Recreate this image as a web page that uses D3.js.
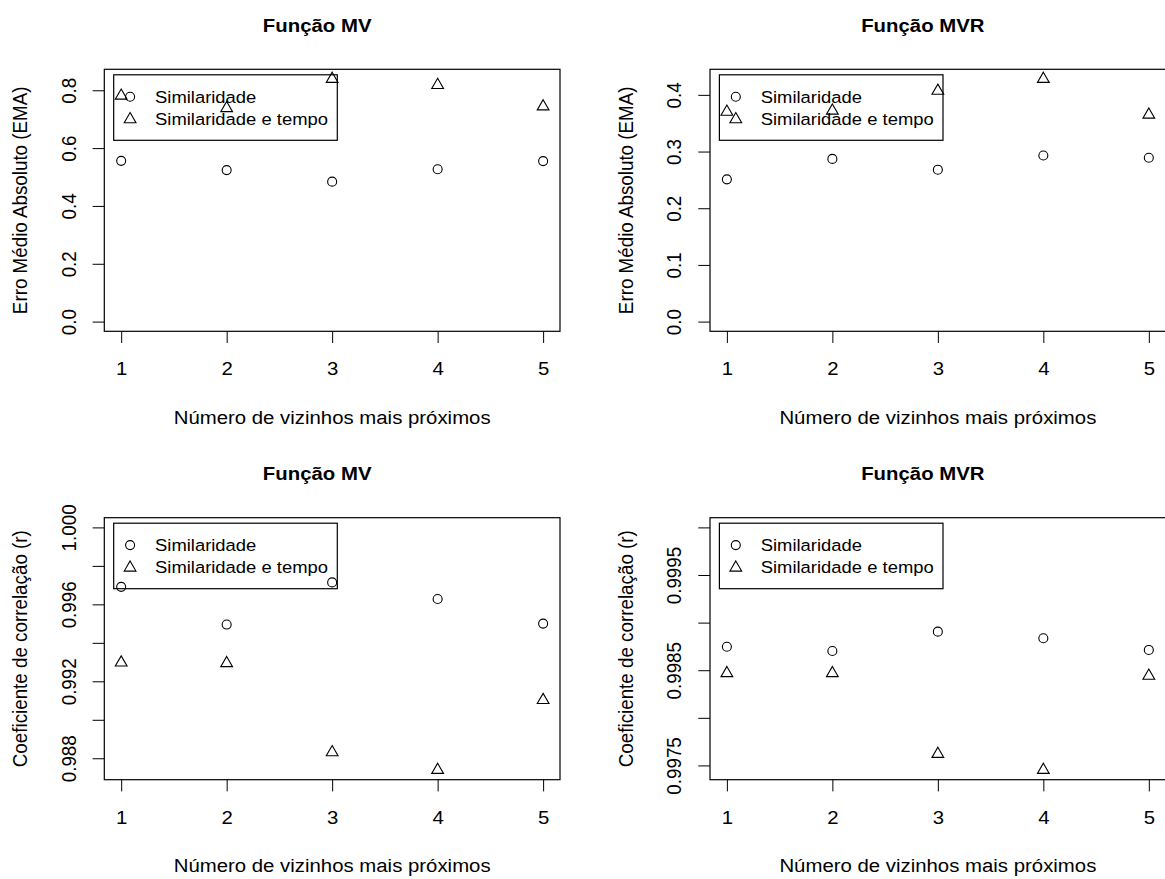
<!DOCTYPE html>
<html>
<head>
<meta charset="utf-8">
<script src="https://cdn.jsdelivr.net/npm/d3@7"></script>
<style>
  body { margin: 0; background: #fff; }
  text { font-family: "Liberation Sans", Arial, sans-serif; fill: #000; }
</style>
</head>
<body>
<script>
// number of neighbours on the x axis
var vizinhos = [1, 2, 3, 4, 5];

// EMA, função MV
var emaMvSim = [0.556, 0.524, 0.484, 0.527, 0.555];
var emaMvSimTempo = [0.781, 0.738, 0.839, 0.818, 0.744];
// EMA, função MVR
var emaMvrSim = [0.251, 0.287, 0.268, 0.293, 0.289];
var emaMvrSimTempo = [0.370, 0.372, 0.407, 0.428, 0.365];
// correlação, função MV
var rMvSim = [0.99691, 0.99495, 0.99714, 0.99628, 0.99500];
var rMvSimTempo = [0.99297, 0.99294, 0.98831, 0.98739, 0.99102];
// correlação, função MVR
var rMvrSim = [0.998747, 0.998702, 0.998905, 0.998836, 0.998713];
var rMvrSimTempo = [0.998468, 0.998468, 0.99762, 0.997452, 0.998441];

// y ticks (R draws every tick, labels only some of them)
var emaMvTicks = [0, 0.2, 0.4, 0.6, 0.8];
var emaMvLabels = ["0.0", "0.2", "0.4", "0.6", "0.8"];
var emaMvrTicks = [0, 0.1, 0.2, 0.3, 0.4];
var emaMvrLabels = ["0.0", "0.1", "0.2", "0.3", "0.4"];
var rMvTicks = [0.988, 0.990, 0.992, 0.994, 0.996, 0.998, 1.000];
var rMvLabels = ["0.988", "", "0.992", "", "0.996", "", "1.000"];
var rMvrTicks = [0.9975, 0.9980, 0.9985, 0.9990, 0.9995, 1.0000];
var rMvrLabels = ["0.9975", "", "0.9985", "", "0.9995", ""];

var legendNames = ["Similaridade", "Similaridade e tempo"];
var xTitle = "Número de vizinhos mais próximos";

var width = 1165, height = 879;
var sx = 1.084;       // the reference text is a bit stretched sideways
var fs = 18.8;        // axis / title font size
var legFs = 17;       // legend font size
var tickLen = 11.7;

var svg = d3.select("body").append("svg")
  .attr("width", width)
  .attr("height", height);

var panels = [
  { title: "Função MV", ylab: "Erro Médio Absoluto (EMA)", sim: emaMvSim, simT: emaMvSimTempo,
    ylim: [0, d3.max(emaMvSimTempo)], ticks: emaMvTicks, labels: emaMvLabels,
    left: 104.3, top: 69.3 },
  { title: "Função MVR", ylab: "Erro Médio Absoluto (EMA)", sim: emaMvrSim, simT: emaMvrSimTempo,
    ylim: [0, d3.max(emaMvrSimTempo)], ticks: emaMvrTicks, labels: emaMvrLabels,
    left: 710, top: 69.3 },
  { title: "Função MV", ylab: "Coeficiente de correlação (r)", sim: rMvSim, simT: rMvSimTempo,
    ylim: [d3.min(rMvSimTempo), 1], ticks: rMvTicks, labels: rMvLabels,
    left: 104.3, top: 517.7 },
  { title: "Função MVR", ylab: "Coeficiente de correlação (r)", sim: rMvrSim, simT: rMvrSimTempo,
    ylim: [d3.min(rMvrSimTempo), 1], ticks: rMvrTicks, labels: rMvrLabels,
    left: 710, top: 517.7 }
];

var plotW = 455.7, plotH = 262;

// R style 4% padding on both ends
function pad(lim) {
  var d = (lim[1] - lim[0]) * 0.04;
  return [lim[0] - d, lim[1] + d];
}

var tri = d3.symbol().type(d3.symbolTriangle).size(60);

function stretched(sel, x, y, rotate) {
  sel.attr("transform", "translate(" + x + "," + y + ") scale(" + sx + ",1)" + (rotate ? " rotate(-90)" : ""));
  return sel;
}

panels.forEach(function(p) {
  var g = svg.append("g").attr("transform", "translate(" + p.left + "," + p.top + ")");

  var x = d3.scaleLinear().domain(pad([1, 5])).range([0, plotW]);
  var y = d3.scaleLinear().domain(pad(p.ylim)).range([plotH, 0]);

  // x axis
  var xAxis = g.append("g")
    .attr("transform", "translate(0," + plotH + ")")
    .call(d3.axisBottom(x).tickValues(vizinhos).tickSize(tickLen).tickFormat(d3.format("d")));
  xAxis.select(".domain").remove();
  xAxis.selectAll("line").attr("stroke", "#000").attr("stroke-width", 1);
  xAxis.selectAll("text")
    .attr("y", null).attr("dy", null)
    .style("font-size", fs + "px")
    .attr("fill", "#000")
    .each(function() { stretched(d3.select(this), 0, 44, false); });

  // y axis, labels turned like R does
  var yAxis = g.append("g")
    .call(d3.axisLeft(y).tickValues(p.ticks).tickSize(tickLen)
      .tickFormat(function(d, i) { return p.labels[i]; }));
  yAxis.select(".domain").remove();
  yAxis.selectAll("line").attr("stroke", "#000").attr("stroke-width", 1);
  yAxis.selectAll("text")
    .attr("x", null).attr("dy", null)
    .attr("text-anchor", "middle")
    .style("font-size", fs + "px")
    .attr("fill", "#000")
    .each(function() { stretched(d3.select(this), -28.7, 0, true); });

  // box
  g.append("rect")
    .attr("width", plotW).attr("height", plotH)
    .attr("fill", "none").attr("stroke", "#000").attr("stroke-width", 1.2);

  // points
  g.append("g").selectAll("circle")
    .data(p.sim)
    .enter().append("circle")
    .attr("cx", function(d, i) { return x(vizinhos[i]); })
    .attr("cy", function(d) { return y(d); })
    .attr("r", 4.5)
    .attr("fill", "none").attr("stroke", "#000").attr("stroke-width", 1.1);

  g.append("g").selectAll("path")
    .data(p.simT)
    .enter().append("path")
    .attr("d", tri)
    .attr("transform", function(d, i) { return "translate(" + x(vizinhos[i]) + "," + y(d) + ")"; })
    .attr("fill", "none").attr("stroke", "#000").attr("stroke-width", 1.1);

  // legend
  var lg = g.append("g");
  lg.append("rect")
    .attr("x", 9.4).attr("y", 5.5)
    .attr("width", 223.6).attr("height", 65.5)
    .attr("fill", "none").attr("stroke", "#000").attr("stroke-width", 1.2);
  lg.append("circle")
    .attr("cx", 25.8).attr("cy", 27.4).attr("r", 4.5)
    .attr("fill", "none").attr("stroke", "#000").attr("stroke-width", 1.1);
  lg.append("path")
    .attr("d", tri)
    .attr("transform", "translate(25.8,50)")
    .attr("fill", "none").attr("stroke", "#000").attr("stroke-width", 1.1);
  legendNames.forEach(function(n, i) {
    lg.append("text").text(n)
      .style("font-size", legFs + "px")
      .call(stretched, 50.7, 33.5 + i * 21.7, false);
  });

  // titles (sit a little left of the box centre in the reference)
  g.append("text").text(p.title)
    .attr("text-anchor", "middle")
    .style("font-size", fs + "px")
    .style("font-weight", "bold")
    .call(stretched, plotW / 2 - 15, -37.6, false);

  g.append("text").text(xTitle)
    .attr("text-anchor", "middle")
    .style("font-size", fs + "px")
    .call(stretched, plotW / 2, plotH + 92.4, false);

  g.append("text").text(p.ylab)
    .attr("text-anchor", "middle")
    .style("font-size", fs + "px")
    .call(stretched, -77, plotH / 2, true);
});
</script>
</body>
</html>
